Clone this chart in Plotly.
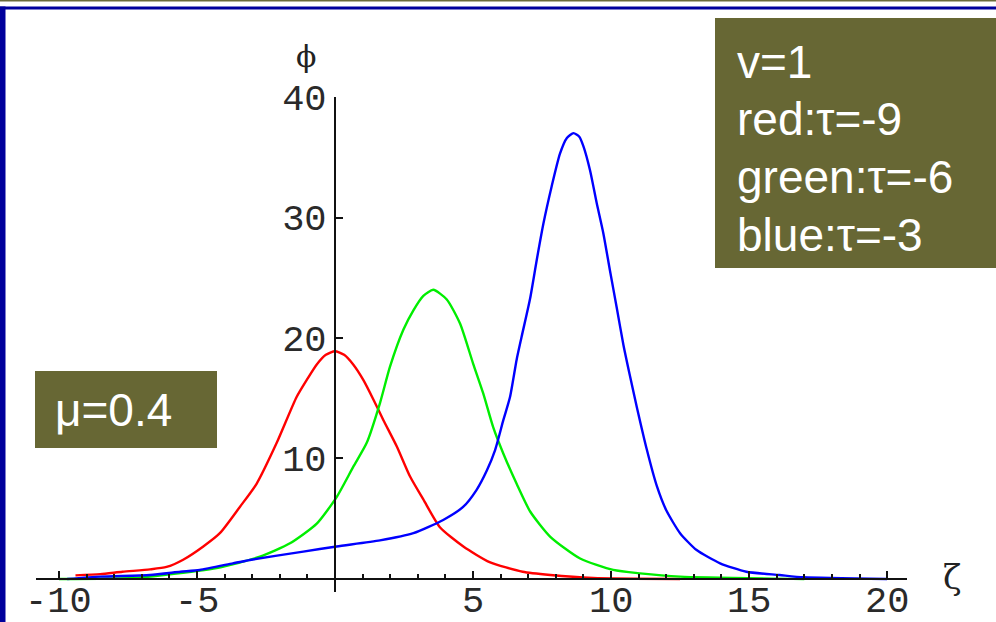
import plotly.graph_objects as go

# ---- data ----
red_x = [-9.4, -8.5, -7.7, -6.7, -6.1, -5.5, -4.77, -4.17, -3.44, -2.84, -2.11, -1.39, -1.0, -0.66, -0.33, 0.0,
         0.33, 0.66, 1.03, 1.39, 1.75, 2.24, 2.72, 3.2, 3.8, 4.65, 5.6, 6.8, 7.8, 9.35, 12.5]
red_y = [0.3, 0.4, 0.6, 0.8, 1.0, 1.6, 2.7, 3.8, 6.0, 7.9, 11.3, 15.1, 16.6, 17.8, 18.6, 18.9,
         18.6, 17.8, 16.5, 14.9, 13.2, 11.0, 8.5, 6.6, 4.3, 2.7, 1.4, 0.6, 0.33, 0.08, 0.0]

green_x = [-10.0, -7.3, -6.2, -4.29, -2.72, -1.63, -0.66, 0.06, 0.66, 1.15, 1.63, 1.99, 2.48, 2.84,
           3.2, 3.56, 4.05, 4.53, 5.0, 5.37, 5.73, 6.1, 6.58, 7.07, 7.8, 8.88, 10.08, 11.05, 12.5, 17.0]
green_y = [0.0, 0.08, 0.33, 0.9, 1.85, 2.96, 4.6, 6.8, 9.3, 11.3, 14.6, 17.6, 20.7, 22.3,
           23.5, 24.0, 23.2, 21.2, 17.9, 15.4, 12.6, 10.4, 7.9, 5.6, 3.5, 1.7, 0.75, 0.47, 0.2, 0.0]

blue_x = [-9.7, -8.5, -6.7, -5.6, -4.9, -3.7, -3.08, -1.15, 0.06, 1.63, 2.84, 3.92, 4.65, 5.13,
          5.5, 5.8, 6.1, 6.34, 6.58, 6.76, 7.07, 7.31, 7.55, 7.85, 8.15, 8.4, 8.64, 8.85, 9.0, 9.24, 9.48,
          9.72, 9.96, 10.2, 10.45, 10.69, 10.93, 11.3, 11.66, 12.0, 12.5, 13.1, 13.95, 14.9,
          16.1, 16.97, 20.0]
blue_y = [0.0, 0.2, 0.33, 0.6, 0.75, 1.3, 1.58, 2.27, 2.7, 3.2, 3.8, 4.9, 6.0, 7.4,
          9.0, 10.7, 13.2, 15.1, 18.2, 20.1, 23.3, 26.5, 29.5, 32.6, 35.3, 36.6, 37.0, 36.7, 35.9, 33.9, 31.2,
          28.7, 25.6, 22.6, 19.4, 16.8, 14.3, 10.7, 7.7, 5.7, 3.8, 2.4, 1.3, 0.6,
          0.33, 0.14, 0.0]

x_tickvals = [-10, -5, 5, 10, 15, 20]
x_ticktext = ["-10", "-5", "5", "10", "15", "20"]
y_tickvals = [10, 20, 30, 40]
y_ticktext = ["10", "20", "30", "40"]

info_lines = ["v=1", "red:τ=-9", "green:τ=-6", "blue:τ=-3"]
mu_text = "μ=0.4"

# ---- layout geometry (pixels) ----
W, H = 996, 622
L, R, T, B = 36, 907, 97, 592
XMIN, XMAX = -10.83, 20.72
YMIN, YMAX = -1.08, 40.0


def px(xp):
    return (xp - L) / (R - L)


def py(yp):
    return (B - yp) / (B - T)


fig = go.Figure()
for xs, ys, col in [(red_x, red_y, "#ff0000"), (green_x, green_y, "#00ee00"), (blue_x, blue_y, "#0000ff")]:
    fig.add_trace(go.Scatter(x=xs, y=ys, mode="lines",
                             line=dict(color=col, width=2.4, shape="spline", smoothing=0.6),
                             showlegend=False, hoverinfo="skip", cliponaxis=False))

tick_font = dict(family="Liberation Mono", size=37, color="#2a2a2a")

fig.update_layout(
    width=W, height=H,
    margin=dict(l=L, r=W - R, t=T, b=H - B, autoexpand=False),
    paper_bgcolor="white", plot_bgcolor="white",
    xaxis=dict(range=[XMIN, XMAX], anchor="free", position=(0 - YMIN) / (YMAX - YMIN),
               showgrid=False, zeroline=False, showline=True, linecolor="#111111", linewidth=2,
               ticks="inside", ticklen=7, tickwidth=2, tickcolor="#111111",
               tickvals=x_tickvals, showticklabels=False,
               minor=dict(dtick=1, tick0=0, ticks="inside", ticklen=4, tickwidth=2, tickcolor="#111111"),
               automargin=False, fixedrange=True),
    yaxis=dict(range=[YMIN, YMAX], anchor="free", position=(0 - XMIN) / (XMAX - XMIN),
               showgrid=False, zeroline=False, showline=True, linecolor="#111111", linewidth=2,
               ticks="inside", ticklen=7, tickwidth=2, tickcolor="#111111",
               tickvals=y_tickvals, ticktext=y_ticktext, tickfont=tick_font,
               automargin=False, fixedrange=True),
)

shapes = []
# frame lines
shapes.append(dict(type="rect", xref="paper", yref="paper", x0=px(0), x1=px(996), y0=py(0), y1=py(1.5),
                   fillcolor="#6b6b3a", line=dict(width=0), layer="above"))
shapes.append(dict(type="rect", xref="paper", yref="paper", x0=px(0), x1=px(996), y0=py(6.5), y1=py(9.5),
                   fillcolor="#00009c", line=dict(width=0), layer="above"))
shapes.append(dict(type="rect", xref="paper", yref="paper", x0=px(0), x1=px(5.5), y0=py(6.5), y1=py(622),
                   fillcolor="#00009c", line=dict(width=0), layer="above"))
# info boxes
shapes.append(dict(type="rect", xref="paper", yref="paper", x0=px(715), x1=px(996), y0=py(18), y1=py(268),
                   fillcolor="#676734", line=dict(width=0), layer="above"))
shapes.append(dict(type="rect", xref="paper", yref="paper", x0=px(35), x1=px(217), y0=py(371), y1=py(448),
                   fillcolor="#676734", line=dict(width=0), layer="above"))
fig.update_layout(shapes=shapes)

ann = []
# x tick labels placed on the data scale just below the axis
for v, t in zip(x_tickvals, x_ticktext):
    ann.append(dict(xref="x", yref="paper", x=v, y=py(602), text=t, showarrow=False,
                    xanchor="center", yanchor="middle", font=tick_font))
box_font = dict(family="Liberation Sans", size=46, color="white")
for i, t in enumerate(info_lines):
    ann.append(dict(xref="paper", yref="paper", x=px(735), y=py(62 + 57.5 * i), text=t,
                    showarrow=False, xanchor="left", yanchor="middle", font=box_font))
ann.append(dict(xref="paper", yref="paper", x=px(53), y=py(410), text=mu_text,
                showarrow=False, xanchor="left", yanchor="middle",
                font=dict(family="Liberation Sans", size=46, color="white")))
ann.append(dict(xref="paper", yref="paper", x=px(306), y=py(57), text="ϕ", showarrow=False,
                xanchor="center", yanchor="middle",
                font=dict(family="DejaVu Serif", size=30, color="#222222")))
ann.append(dict(xref="paper", yref="paper", x=px(952), y=py(577), text="ζ", showarrow=False,
                xanchor="center", yanchor="middle",
                font=dict(family="DejaVu Serif", size=34, color="#222222")))
fig.update_layout(annotations=ann)

fig.write_html("out.html", config={"displayModeBar": False, "staticPlot": True},
               post_script="document.body.style.margin='0px';document.body.style.overflow='hidden';")
